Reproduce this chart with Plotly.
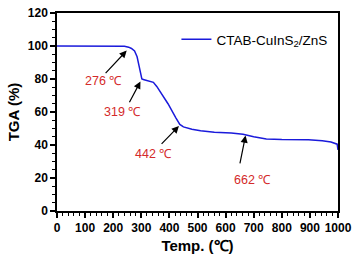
import plotly.graph_objects as go

temp = [0, 50, 100, 150, 200, 240, 255, 265, 276, 285, 292, 298, 302, 310, 319, 330, 343, 355, 372, 395, 423, 437, 450, 480, 511, 560, 620, 662, 700, 745, 800, 850, 895, 944, 975, 997, 1000]
tga = [100, 100, 100, 100, 100, 99.8, 99.3, 98.5, 97.0, 93.5, 88, 82, 80, 79.6, 79.2, 78.8, 78, 75.5, 71, 65, 56.5, 52.5, 51, 49.5, 48.7, 47.8, 47.2, 46.5, 45, 43.7, 43.3, 43.3, 43.2, 42.6, 41.8, 40.5, 37]

ann_text = ["276 ℃", "319 ℃", "442 ℃", "662 ℃"]
ann_x = [164, 234, 343, 696]
ann_y = [78.5, 60.3, 34.5, 18.7]
arrow_x0 = [168, 255, 367, 650]
arrow_y0 = [82.6, 65, 39.8, 28]
arrow_x1 = [248, 297, 434, 671]
arrow_y1 = [97.2, 78.5, 51.5, 45.7]

FONT = "Arial, Liberation Sans"

fig = go.Figure()
fig.add_trace(go.Scatter(x=temp, y=tga, mode="lines", name="CTAB-CuInS<sub>2</sub>/ZnS",
                         line=dict(color="#1a1adb", width=1.5)))

for t, x, y in zip(ann_text, ann_x, ann_y):
    fig.add_annotation(x=x, y=y, text=t, showarrow=False,
                       font=dict(family=FONT, size=12.5, color="#d42a2a"))
for x0, y0, x1, y1 in zip(arrow_x0, arrow_y0, arrow_x1, arrow_y1):
    fig.add_annotation(x=x1, y=y1, ax=x0, ay=y0, axref="x", ayref="y", xref="x", yref="y",
                       text="", showarrow=True, arrowhead=2, arrowsize=1.2, arrowwidth=1.2,
                       arrowcolor="black")

axis_common = dict(showline=True, linecolor="black", linewidth=1.5, mirror=True,
                   ticks="outside", ticklen=5, tickwidth=1.5, tickcolor="black",
                   showgrid=False, zeroline=False,
                   tickfont=dict(family=FONT, size=12, color="black", weight="bold"),
                   minor=dict(ticks="outside", ticklen=3, tickwidth=1, tickcolor="black"))

fig.update_xaxes(range=[0, 1000], dtick=100, **axis_common,
                 title=dict(text="<b>Temp. (℃)</b>", font=dict(family=FONT, size=15, color="black"), standoff=6))
fig.update_yaxes(range=[0, 120], dtick=20, **axis_common,
                 title=dict(text="<b>TGA (%)</b>", font=dict(family=FONT, size=15, color="black"), standoff=5))

fig.update_layout(width=358, height=265, margin=dict(l=57, r=15, t=6, b=54),
                  plot_bgcolor="white", paper_bgcolor="white",
                  legend=dict(x=0.425, y=0.866, xanchor="left", yanchor="middle",
                              bgcolor="rgba(0,0,0,0)",
                              font=dict(family=FONT, size=13.5, color="black")),
                  showlegend=True)

fig.write_html("out.html", config={"displayModeBar": False},
               post_script="document.body.style.margin='0';document.body.style.padding='0';")
